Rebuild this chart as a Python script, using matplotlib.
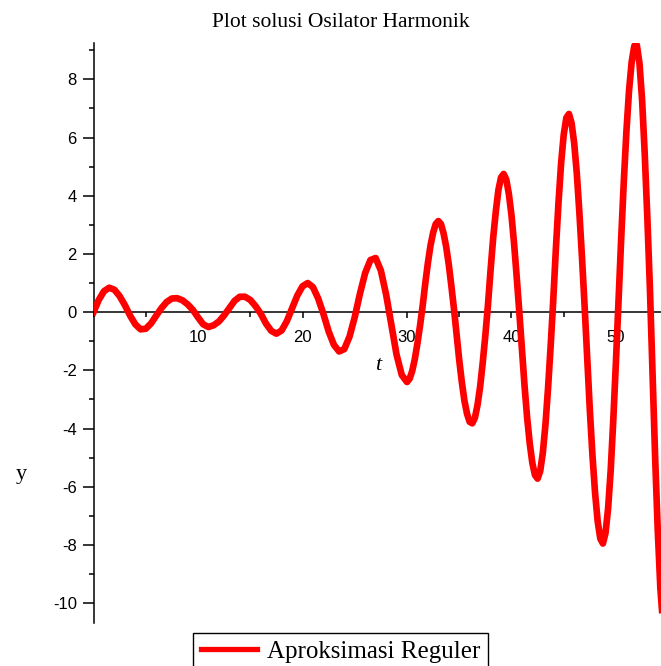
import numpy as np
import matplotlib.pyplot as plt
from matplotlib.ticker import MultipleLocator

plt.rcParams['axes.unicode_minus'] = False

# solusi y(t), dibaca per 0.5 (t < 30) lalu per 0.25
t = [0.0, 0.5, 1.0, 1.5, 2.0, 2.5, 3.0, 3.5, 4.0, 4.5,
     5.0, 5.5, 6.0, 6.5, 7.0, 7.5, 8.0, 8.5, 9.0, 9.5,
     10.0, 10.5, 11.0, 11.5, 12.0, 12.5, 13.0, 13.5, 14.0, 14.5,
     15.0, 15.5, 16.0, 16.5, 17.0, 17.5, 18.0, 18.5, 19.0, 19.5,
     20.0, 20.5, 21.0, 21.5, 22.0, 22.5, 23.0, 23.5, 24.0, 24.5,
     25.0, 25.5, 26.0, 26.5, 27.0, 27.5, 28.0, 28.5, 29.0, 29.5,
     30.0, 30.25, 30.5, 30.75, 31.0, 31.25, 31.5, 31.75, 32.0, 32.25,
     32.5, 32.75, 33.0, 33.25, 33.5, 33.75, 34.0, 34.25, 34.5, 34.75,
     35.0, 35.25, 35.5, 35.75, 36.0, 36.25, 36.5, 36.75, 37.0, 37.25,
     37.5, 37.75, 38.0, 38.25, 38.5, 38.75, 39.0, 39.25, 39.5, 39.75,
     40.0, 40.25, 40.5, 40.75, 41.0, 41.25, 41.5, 41.75, 42.0, 42.25,
     42.5, 42.75, 43.0, 43.25, 43.5, 43.75, 44.0, 44.25, 44.5, 44.75,
     45.0, 45.25, 45.5, 45.75, 46.0, 46.25, 46.5, 46.75, 47.0, 47.25,
     47.5, 47.75, 48.0, 48.25, 48.5, 48.75, 49.0, 49.25, 49.5, 49.75,
     50.0, 50.25, 50.5, 50.75, 51.0, 51.25, 51.5, 51.75, 51.9, 52.0,
     52.25, 52.5, 52.75, 53.0, 53.25, 53.5, 53.75, 54.0, 54.25, 54.5]

y = [0.0, 0.42, 0.72, 0.84, 0.77, 0.55, 0.24, -0.12, -0.42, -0.59,
     -0.57, -0.39, -0.12, 0.14, 0.35, 0.47, 0.48, 0.41, 0.27, 0.08,
     -0.18, -0.42, -0.51, -0.45, -0.32, -0.11, 0.14, 0.39, 0.53, 0.53,
     0.42, 0.21, -0.05, -0.39, -0.64, -0.74, -0.63, -0.31, 0.13, 0.57,
     0.89, 1.00, 0.86, 0.47, -0.06, -0.66, -1.12, -1.35, -1.27, -0.84,
     -0.17, 0.64, 1.35, 1.79, 1.86, 1.43, 0.61, -0.43, -1.46, -2.16,
     -2.40, -2.29, -2.02, -1.61, -1.07, -0.46, 0.22, 0.99, 1.69, 2.29,
     2.73, 3.03, 3.13, 3.03, 2.71, 2.25, 1.63, 0.89, 0.10, -0.79,
     -1.65, -2.41, -3.05, -3.50, -3.77, -3.82, -3.63, -3.19, -2.56, -1.73,
     -0.79, 0.25, 1.45, 2.56, 3.46, 4.20, 4.63, 4.75, 4.56, 4.06,
     3.33, 2.35, 1.21, 0.00, -1.29, -2.53, -3.63, -4.52, -5.19, -5.60,
     -5.72, -5.46, -4.83, -3.87, -2.61, -1.16, 0.43, 2.18, 3.76, 5.12,
     6.10, 6.68, 6.81, 6.50, 5.81, 4.78, 3.41, 1.87, 0.20, -1.61,
     -3.37, -4.92, -6.21, -7.19, -7.78, -7.95, -7.59, -6.73, -5.41, -3.66,
     -1.68, 0.43, 2.53, 4.49, 6.21, 7.61, 8.59, 9.14, 9.23, 9.17,
     8.55, 7.29, 5.46, 3.27, 0.81, -2.10, -5.00, -7.50, -9.50, -10.68]

x_ticks = [10, 20, 30, 40, 50]
y_ticks = [-10, -8, -6, -4, -2, 0, 2, 4, 6, 8]

fig = plt.figure(figsize=(6.61, 6.66), dpi=100)
ax = fig.add_axes([0.1415, 0.0646, 0.8585, 0.8709])

line, = ax.plot(t, y, color='#ff0000', lw=4.8, zorder=3, label='Aproksimasi Reguler',
                solid_joinstyle='round')

ax.set_xlim(0, 54.31)
ax.set_ylim(-10.68, 9.25)

for s in ['top', 'right']:
    ax.spines[s].set_visible(False)
ax.spines['bottom'].set_position(('data', 0))
ax.spines['left'].set_linewidth(1.1)
ax.spines['bottom'].set_linewidth(1.1)

ax.set_xticks(x_ticks)
ax.set_yticks(y_ticks)
ax.xaxis.set_minor_locator(MultipleLocator(5))
ax.yaxis.set_minor_locator(MultipleLocator(1))
ax.tick_params(axis='x', which='major', direction='out', length=4.5, width=1.1, pad=8.5)
ax.tick_params(axis='x', which='minor', direction='out', length=3.5, width=1.1)
ax.tick_params(axis='y', which='major', direction='out', length=8, width=1.1, pad=4)
ax.tick_params(axis='y', which='minor', direction='out', length=3.6, width=1.1)
for lab in ax.get_xticklabels() + ax.get_yticklabels():
    lab.set_fontfamily('Liberation Sans')
    lab.set_fontsize(12)

fig.text(0.515, 0.959, 'Plot solusi Osilator Harmonik', ha='center', va='baseline',
         family='Liberation Serif', size=15.5)
fig.text(21 / 661, 1 - 474 / 666, 'y', ha='center', va='center',
         family='Liberation Serif', size=16)
fig.text(378.5 / 661, 1 - 365 / 666, 't', ha='center', va='center',
         family='Liberation Serif', style='italic', size=16)

leg = ax.legend(loc='upper left', bbox_to_anchor=(193 / 661, 1 - 633 / 666),
                bbox_transform=fig.transFigure, borderaxespad=0, fancybox=False,
                edgecolor='black', framealpha=1, handlelength=2.25, handletextpad=0.4,
                borderpad=0.3, prop={'family': 'Liberation Serif', 'size': 18})
leg.get_frame().set_linewidth(1.0)
leg.get_lines()[0].set_linewidth(3.8)

fig.savefig('out.png', dpi=100)
